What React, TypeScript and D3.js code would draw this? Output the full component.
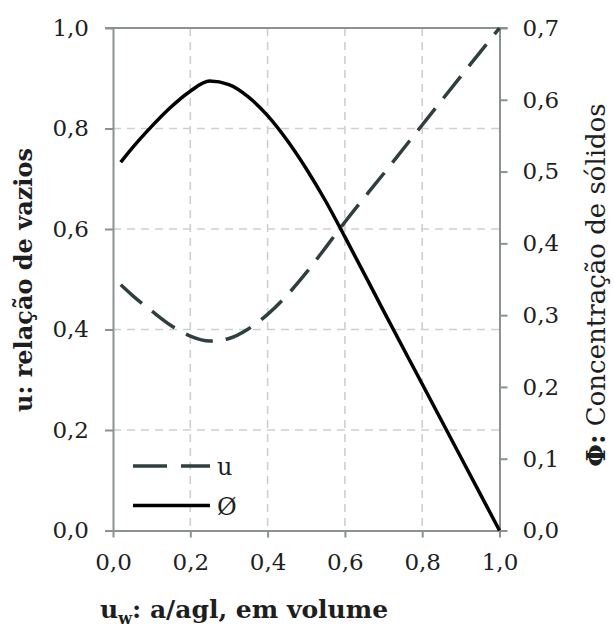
import React, { useEffect, useRef } from "react";
import * as d3 from "d3";

// Values.
const uwValues = [0.02, 0.05, 0.1, 0.15, 0.2, 0.25, 0.3, 0.35, 0.4, 0.45, 0.5, 0.55, 0.6, 0.7, 0.8, 0.9, 1.0];
const uSeries = [0.489, 0.468, 0.437, 0.408, 0.387, 0.377, 0.382, 0.401, 0.43, 0.468, 0.513, 0.563, 0.614, 0.71, 0.807, 0.904, 1.0];
const phiSeries = [0.513, 0.533, 0.563, 0.59, 0.612, 0.626, 0.621, 0.604, 0.578, 0.544, 0.504, 0.459, 0.409, 0.306, 0.204, 0.102, 0.0];

const xTicks = [0, 0.2, 0.4, 0.6, 0.8, 1.0];
const leftTicks = [0, 0.2, 0.4, 0.6, 0.8, 1.0];
const rightTicks = [0, 0.1, 0.2, 0.3, 0.4, 0.5, 0.6, 0.7];

const App = () => {
  const ref = useRef<SVGSVGElement>(null);

  useEffect(() => {
    const width = 615;
    const height = 628;
    const svg = d3.select(ref.current).attr("width", width).attr("height", height);
    svg.selectAll("*").remove();

    const font = "'DejaVu Serif', serif";
    const axisColor = "#8c9191";
    const gridColor = "#cfcfcf";

    const x = d3.scaleLinear().domain([0, 1]).range([113, 499.5]);
    const yL = d3.scaleLinear().domain([0, 1]).range([530.5, 28]);
    const yR = d3.scaleLinear().domain([0, 0.7]).range([530.5, 28]);

    // gridlines
    const grid = svg.append("g");
    grid.selectAll("line.v")
      .data(xTicks.filter(d => d > 0 && d < 1))
      .join("line")
      .attr("x1", d => x(d)).attr("x2", d => x(d))
      .attr("y1", yL(1)).attr("y2", yL(0))
      .attr("stroke", gridColor).attr("stroke-width", 1.6)
      .attr("stroke-dasharray", "8 6");
    grid.selectAll("line.h")
      .data(leftTicks.filter(d => d > 0 && d < 1))
      .join("line")
      .attr("x1", x(0)).attr("x2", x(1))
      .attr("y1", d => yL(d)).attr("y2", d => yL(d))
      .attr("stroke", gridColor).attr("stroke-width", 1.6)
      .attr("stroke-dasharray", "8 6");

    // top border line
    svg.append("line")
      .attr("x1", x(0) - 8).attr("x2", x(1) + 8)
      .attr("y1", yL(1)).attr("y2", yL(1))
      .attr("stroke", axisColor).attr("stroke-width", 2);

    const styleAxis = (g: any) => {
      g.attr("font-family", null);
      g.selectAll(".domain").attr("stroke", axisColor).attr("stroke-width", 2);
      g.selectAll(".tick line").attr("stroke", axisColor).attr("stroke-width", 2);
      g.selectAll(".tick text")
        .style("font-family", font)
        .style("font-size", "23px")
        .attr("fill", "#1e1e1e");
    };

    const fmt = (d: number) => d3.format(".1f")(d).replace(".", ",");

    // x axis
    svg.append("g")
      .attr("transform", `translate(0, ${yL(0)})`)
      .call(d3.axisBottom(x).tickValues(xTicks).tickFormat(fmt as any).tickSize(7).tickSizeOuter(0).tickPadding(16))
      .call(styleAxis);

    // left axis
    svg.append("g")
      .attr("transform", `translate(${x(0)}, 0)`)
      .call(d3.axisLeft(yL).tickValues(leftTicks).tickFormat(fmt as any).tickSize(8).tickSizeOuter(0).tickPadding(16))
      .call(styleAxis);

    // right axis
    svg.append("g")
      .attr("transform", `translate(${x(1)}, 0)`)
      .call(d3.axisRight(yR).tickValues(rightTicks).tickFormat(fmt as any).tickSize(8).tickSizeOuter(0).tickPadding(15))
      .call(styleAxis);

    const pts = uwValues.map((d, i) => ({ x: d, u: uSeries[i], phi: phiSeries[i] }));

    const lineU = d3.line<any>().x(d => x(d.x)).y(d => yL(d.u)).curve(d3.curveMonotoneX);
    const linePhi = d3.line<any>().x(d => x(d.x)).y(d => yR(d.phi)).curve(d3.curveMonotoneX);

    svg.append("path")
      .datum(pts)
      .attr("fill", "none")
      .attr("stroke", "#2f3e3e")
      .attr("stroke-width", 3.5)
      .attr("stroke-dasharray", "28 13")
      .attr("d", lineU);

    svg.append("path")
      .datum(pts)
      .attr("fill", "none")
      .attr("stroke", "#000")
      .attr("stroke-width", 3.5)
      .attr("d", linePhi);

    // legend
    const legend = svg.append("g");
    legend.append("line")
      .attr("x1", 133).attr("x2", 210).attr("y1", 466).attr("y2", 466)
      .attr("stroke", "#2f3e3e").attr("stroke-width", 3.5)
      .attr("stroke-dasharray", "34 14");
    legend.append("text")
      .attr("x", 217).attr("y", 475)
      .style("font-family", font).style("font-size", "24px").attr("fill", "#1e1e1e")
      .text("u");
    legend.append("line")
      .attr("x1", 133).attr("x2", 210).attr("y1", 505.5).attr("y2", 505.5)
      .attr("stroke", "#000").attr("stroke-width", 3.5);
    legend.append("text")
      .attr("x", 217).attr("y", 515)
      .style("font-family", font).style("font-size", "24px").attr("fill", "#1e1e1e")
      .text("Ø");

    // axis titles
    svg.append("text")
      .attr("transform", `translate(32, 280) rotate(-90)`)
      .attr("text-anchor", "middle")
      .style("font-family", font).style("font-size", "24px").attr("font-weight", "bold").attr("fill", "#1e1e1e")
      .text("u: relação de vazios");

    const rt = svg.append("text")
      .attr("transform", `translate(605, 285) rotate(-90)`)
      .attr("text-anchor", "middle")
      .style("font-family", font).style("font-size", "26px").attr("fill", "#1e1e1e");
    rt.append("tspan").attr("font-weight", "bold").text("Φ:");
    rt.append("tspan").text(" Concentração de sólidos");

    const bt = svg.append("text")
      .attr("x", 100).attr("y", 618)
      .style("font-family", font).style("font-size", "25px").attr("font-weight", "bold").attr("fill", "#1e1e1e");
    bt.append("tspan").text("u");
    bt.append("tspan").style("font-size", "16px").attr("dy", 6).text("w");
    bt.append("tspan").attr("dy", -6).text(": a/agl, em volume");
  }, []);

  return (
    <div style={{ position: "absolute", left: 0, top: 0, background: "#fff" }}>
      <svg ref={ref} style={{ display: "block" }}></svg>
    </div>
  );
};

export default App;
